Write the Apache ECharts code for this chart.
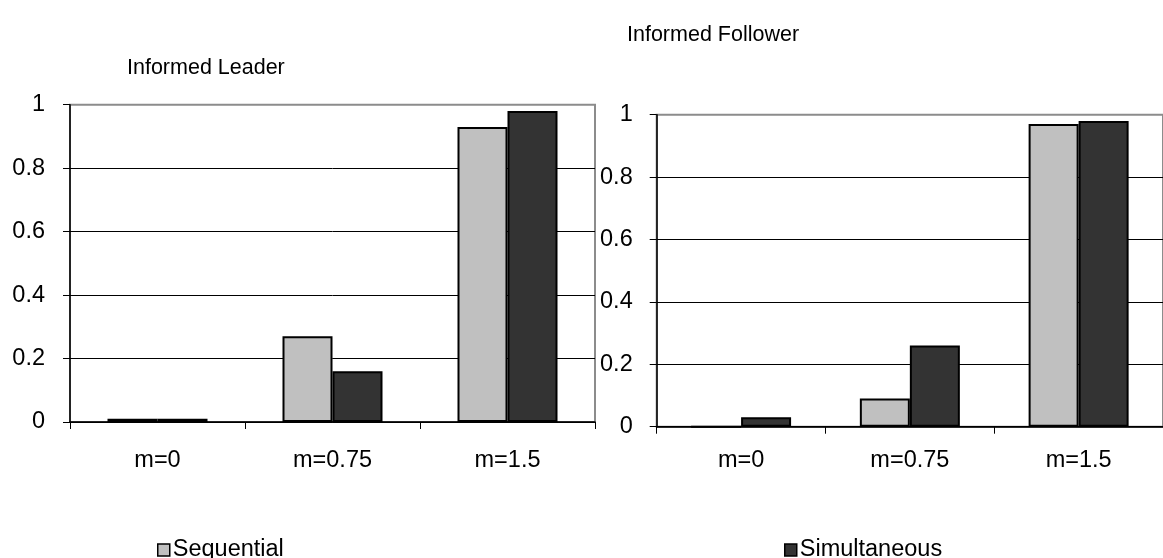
<!DOCTYPE html>
<html>
<head>
<meta charset="utf-8">
<script src="https://cdn.jsdelivr.net/npm/echarts@6/dist/echarts.min.js"></script>
<style>
  html, body { margin: 0; padding: 0; background: #fff; }
  #chart { width: 1163px; height: 558px; }
</style>
</head>
<body>
<div id="chart"></div>
<script>
// Share of choices by mark-up level, for the two information treatments
const categories = ['m=0', 'm=0.75', 'm=1.5'];
const leaderSequential = [0.01, 0.27, 0.93];
const leaderSimultaneous = [0.01, 0.16, 0.98];
const followerSequential = [0, 0.09, 0.97];
const followerSimultaneous = [0.03, 0.26, 0.98];
const seriesNames = ['Sequential', 'Simultaneous'];
const panelTitles = ['Informed Leader', 'Informed Follower'];

const FONT = '"Liberation Sans", Arial, sans-serif';
const SEQ_COLOR = '#c0c0c0';
const SIM_COLOR = '#333333';

function valueAxis(gridIndex, margin) {
  return {
    type: 'value', gridIndex, min: 0, max: 1, interval: 0.2,
    axisLine: { show: true, lineStyle: { color: '#000', width: 1.5 } },
    axisTick: { show: true, length: 7, lineStyle: { color: '#000', width: 1 } },
    axisLabel: { color: '#000', fontSize: 23.5, fontFamily: FONT, margin },
    splitLine: { show: true, showMaxLine: false, lineStyle: { color: '#000', width: 1 } }
  };
}
function categoryAxis(gridIndex, margin) {
  return {
    type: 'category', gridIndex, data: categories,
    axisLine: { show: true, lineStyle: { color: '#000', width: 1.5 } },
    axisTick: { show: true, length: 7, lineStyle: { color: '#000', width: 1 } },
    axisLabel: { color: '#000', fontSize: 23.5, fontFamily: FONT, margin }
  };
}
function bars(name, data, color, axisIndex) {
  return {
    type: 'bar', name, data, xAxisIndex: axisIndex, yAxisIndex: axisIndex,
    barWidth: 50, barGap: '0%',
    itemStyle: { color, borderColor: '#000', borderWidth: 2 },
    silent: true, animation: false
  };
}
function legendFor(name, left) {
  return {
    data: [name], left, top: 533, icon: 'rect', itemWidth: 12, itemHeight: 12, itemGap: 4,
    textStyle: { fontFamily: FONT, fontSize: 23.5, color: '#000', padding: [0, 0, 0, -2] },
    itemStyle: { borderColor: '#000', borderWidth: 1.5 }
  };
}

const chart = echarts.init(document.getElementById('chart'), null, { renderer: 'canvas' });
chart.setOption({
  backgroundColor: '#fff',
  animation: false,
  title: [
    { text: panelTitles[0], left: 122, top: 52,
      textStyle: { fontFamily: FONT, fontSize: 21.5, fontWeight: 'normal', color: '#000' } },
    { text: panelTitles[1], left: 622, top: 19,
      textStyle: { fontFamily: FONT, fontSize: 21.5, fontWeight: 'normal', color: '#000' } }
  ],
  legend: [legendFor(seriesNames[0], 152), legendFor(seriesNames[1], 779)],
  grid: [
    { left: 70, top: 104.7, width: 525, height: 317.3, show: true,
      borderColor: '#8c8c8c', borderWidth: 2, backgroundColor: 'transparent' },
    { left: 656.7, top: 114.7, width: 512, height: 312, show: true,
      borderColor: '#8c8c8c', borderWidth: 2, backgroundColor: 'transparent' }
  ],
  xAxis: [categoryAxis(0, 27), categoryAxis(1, 22)],
  yAxis: [valueAxis(0, 25), valueAxis(1, 24)],
  series: [
    bars(seriesNames[0], leaderSequential, SEQ_COLOR, 0),
    bars(seriesNames[1], leaderSimultaneous, SIM_COLOR, 0),
    bars(seriesNames[0], followerSequential, SEQ_COLOR, 1),
    bars(seriesNames[1], followerSimultaneous, SIM_COLOR, 1)
  ]
});
</script>
</body>
</html>
